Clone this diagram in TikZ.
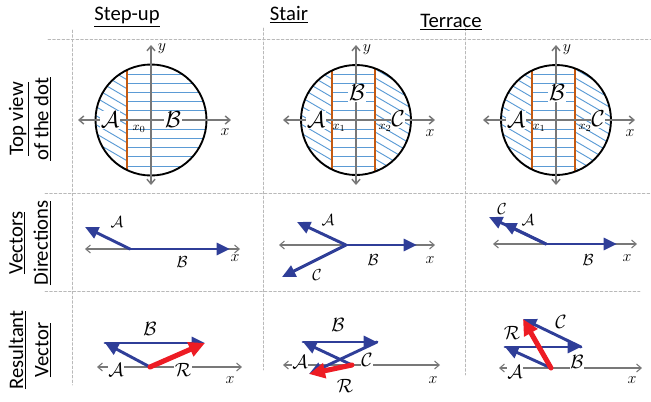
\documentclass[tikz,border=0pt]{standalone}
\usepackage{fontspec}
\setmainfont{Carlito}
\usetikzlibrary{arrows.meta}

\definecolor{vecblue}{RGB}{47,62,152}
\definecolor{resred}{RGB}{237,28,36}
\definecolor{cutred}{RGB}{197,90,17}
\definecolor{hatchblue}{RGB}{91,155,213}
\definecolor{axisgrey}{RGB}{120,120,120}
\definecolor{gridgrey}{RGB}{185,185,185}

\tikzset{
  grid/.style={gridgrey,line width=0.6pt,dash pattern=on 2pt off 1.5pt},
  axis/.style={axisgrey,line width=0.8pt,
    {Straight Barb[length=3.5pt,width=6pt]}-{Straight Barb[length=3.5pt,width=6pt]}},
  bigaxis/.style={axis,line width=1.1pt},
  vec/.style={vecblue,line width=2.2pt,-{Triangle[length=10pt,width=9pt]}},
  res/.style={resred,line width=3.8pt,-{Triangle[length=12pt,width=11pt]}},
  hatch/.style={hatchblue,line width=0.7pt},
  cut/.style={cutred,line width=2pt},
  dot/.style={draw=black,line width=1.4pt},
  head/.style={font=\fontsize{15.5}{18}\selectfont},
  side/.style={font=\fontsize{15.5}{19}\selectfont,rotate=90,align=center},
  calbig/.style={font=\fontsize{17}{17}\selectfont,inner sep=0.5pt},
  calmid/.style={font=\fontsize{12}{12}\selectfont,inner sep=0.5pt},
  calres/.style={font=\fontsize{14}{14}\selectfont,inner sep=0.5pt},
  axlbl/.style={font=\fontsize{12}{12}\selectfont,inner sep=0pt},
  sublbl/.style={font=\fontsize{9.5}{9.5}\selectfont,inner sep=0pt},
  wbg/.style={fill=white},
}

\begin{document}
\begin{tikzpicture}[x=0.75pt,y=-0.75pt,line cap=round]
  \useasboundingbox (0,0) rectangle (651,401);

  % dashed frame
  \coordinate (h1a) at (48,39);  \coordinate (h1b) at (651,39);
  \coordinate (h2a) at (45,193); \coordinate (h2b) at (651,193);
  \coordinate (h3a) at (45,291); \coordinate (h3b) at (640,291);
  \coordinate (v1a) at (72,30);  \coordinate (v1b) at (72,385);
  \coordinate (v2a) at (263,28); \coordinate (v2b) at (263,370);
  \coordinate (v3a) at (465,28); \coordinate (v3b) at (465,375);
  \foreach \p in {h1,h2,h3,v1,v2,v3}
    \draw[grid] (\p a) -- (\p b);

  % column and row titles
  \node[head] (tstep) at (127,17) {\underline{Step-up}};
  \node[head] (tstair) at (289,15) {\underline{Stair}};
  \node[head] (tterr) at (451,22) {\underline{Terrace}};
  \node[side] (rtop) at (30,119) {\underline{Top view}\\\underline{of the dot}};
  \node[side] (rdir) at (30,243) {\underline{Vectors}\\\underline{Directions}};
  \node[side] (rres) at (30,350) {\underline{Resultant}\\\underline{Vector}};

  % top view, step-up
  \coordinate (ctra) at (151,120);
  \begin{scope}
    \clip (ctra) circle (55.5);
    \begin{scope}
      \clip (90,60) rectangle (127,180);
      \foreach \k in {-9,...,7}
        \draw[hatch] (88,{120+9*\k}) -- ++(60,35);
    \end{scope}
    \foreach \k in {-6,...,6}
      \draw[hatch] (127,{120+9.2*\k}) -- (210,{120+9.2*\k});
    \draw[cut] (127,60) -- (127,180);
  \end{scope}
  \draw[dot] (ctra) circle (55.5);
  \coordinate (xla) at (78,120);  \coordinate (xra) at (231,120);
  \coordinate (ybota) at (151,185); \coordinate (ytopa) at (151,45);
  \draw[bigaxis] (xla) -- (xra);
  \draw[bigaxis] (ybota) -- (ytopa);
  \node[calbig,wbg] (ta) at (110,120) {$\mathcal{A}$};
  \node[calbig,wbg] (tb) at (173,120) {$\mathcal{B}$};
  \node[sublbl] (x0) at (139,129) {$x_0$};
  \node[axlbl] (ya) at (162,49) {$y$};
  \node[axlbl] (xa) at (225,132) {$x$};

  % top view, stair and terrace
  \foreach \cx/\n in {356/b,556/c}{
    \coordinate (ctr\n) at (\cx,120);
    \begin{scope}
      \clip (ctr\n) circle (55);
      \begin{scope}
        \clip ({\cx-60},60) rectangle ({\cx-24},180);
        \foreach \k in {-9,...,7}
          \draw[hatch] ({\cx-62},{120+9*\k}) -- ++(60,35);
      \end{scope}
      \begin{scope}
        \clip ({\cx+19},60) rectangle ({\cx+60},180);
        \foreach \k in {-10,...,7}
          \draw[hatch] ({\cx+14},{120+9*\k}) -- ++(60,35);
      \end{scope}
      \foreach \k in {-6,...,6}
        \draw[hatch] ({\cx-24},{120+9.2*\k}) -- ({\cx+19},{120+9.2*\k});
      \draw[cut] ({\cx-24},60) -- ({\cx-24},180);
      \draw[cut] ({\cx+19},60) -- ({\cx+19},180);
    \end{scope}
    \draw[dot] (ctr\n) circle (55);
    \coordinate (xl\n) at ({\cx-73},120); \coordinate (xr\n) at ({\cx+79},120);
    \coordinate (ybot\n) at (\cx,185);    \coordinate (ytop\n) at (\cx,45);
    \draw[bigaxis] (xl\n) -- (xr\n);
    \draw[bigaxis] (ybot\n) -- (ytop\n);
    \node[calbig,wbg] (t\n a) at ({\cx-40},120) {$\mathcal{A}$};
    \node[calbig,wbg] (t\n b) at ({\cx+1},93) {$\mathcal{B}$};
    \node[calbig,wbg] (t\n c) at ({\cx+42},119) {$\mathcal{C}$};
    \node[sublbl] (x1\n) at ({\cx-17},128) {$x_1$};
    \node[sublbl] (x2\n) at ({\cx+29},128) {$x_2$};
    \node[axlbl] (y\n) at ({\cx+11},50) {$y$};
    \node[axlbl] (x\n) at ({\cx+74},133) {$x$};
  }

  % vector directions
  \coordinate (dla) at (85,249);  \coordinate (dra) at (240,249);
  \coordinate (doa) at (130,249);
  \coordinate (daa) at (85,227);  \coordinate (dba) at (230,249);
  \draw[axis] (dla) -- (dra);
  \draw[vec] (doa) -- (daa);
  \draw[vec] (doa) -- (dba);
  \node[calmid] (da) at (117,222) {$\mathcal{A}$};
  \node[calmid] (db) at (182,262) {$\mathcal{B}$};
  \node[axlbl] (dxa) at (235,258) {$x$};

  \coordinate (dlb) at (279,245); \coordinate (drb) at (435,245);
  \coordinate (dob) at (346,245);
  \coordinate (dab) at (297,222); \coordinate (dbb) at (417,245);
  \coordinate (dcb) at (282,277);
  \draw[axis] (dlb) -- (drb);
  \draw[vec] (dob) -- (dab);
  \draw[vec] (dob) -- (dbb);
  \draw[vec] (dob) -- (dcb);
  \node[calmid] (dsa) at (328,220) {$\mathcal{A}$};
  \node[calmid] (dsb) at (373,260) {$\mathcal{B}$};
  \node[calmid] (dsc) at (317,275) {$\mathcal{C}$};
  \node[axlbl] (dxb) at (430,260) {$x$};

  \coordinate (dlc) at (493,244); \coordinate (drc) at (637,244);
  \coordinate (doc) at (546,244);
  \coordinate (dac) at (503,223); \coordinate (dbc) at (617,244);
  \coordinate (dcc) at (489,217);
  \draw[axis] (dlc) -- (drc);
  \draw[vec] (doc) -- (dac);
  \draw[vec] (doc) -- (dcc);
  \draw[vec] (doc) -- (dbc);
  \node[calmid] (dtc) at (502,209) {$\mathcal{C}$};
  \node[calmid] (dta) at (528,220) {$\mathcal{A}$};
  \node[calmid] (dtb) at (588,260) {$\mathcal{B}$};
  \node[axlbl] (dxc) at (627,258) {$x$};

  % resultant vectors
  \coordinate (rla) at (97,367);  \coordinate (rra) at (242,367);
  \coordinate (roa) at (150,367);
  \coordinate (raa) at (105,343); \coordinate (rba) at (205,343);
  \draw[axis] (rla) -- (rra);
  \draw[vec] (roa) -- (raa);
  \draw[vec] (raa) -- (rba);
  \draw[res] (roa) -- (rba);
  \node[calres] (ra) at (150,329) {$\mathcal{B}$};
  \node[calres,wbg] (rsa) at (116,370) {$\mathcal{A}$};
  \node[calres,wbg] (rra2) at (183,370) {$\mathcal{R}$};
  \node[axlbl] (rxa) at (230,380) {$x$};

  \coordinate (rlb) at (283,365); \coordinate (rrb) at (440,365);
  \coordinate (rob) at (352,365);
  \coordinate (rab) at (303,342); \coordinate (rbb) at (377,342);
  \coordinate (rcb) at (309,374);
  \draw[axis] (rlb) -- (rrb);
  \draw[vec] (rob) -- (rab);
  \draw[vec] (rab) -- (rbb);
  \draw[vec] (rbb) -- (rcb);
  \draw[res] (rob) -- (rcb);
  \node[calres] (rsb) at (338,325) {$\mathcal{B}$};
  \node[calres,wbg] (rsba) at (300,362) {$\mathcal{A}$};
  \node[calres,wbg] (rsbc) at (367,360) {$\mathcal{C}$};
  \node[calres] (rsbr) at (345,386) {$\mathcal{R}$};
  \node[axlbl] (rxb) at (433,380) {$x$};

  \coordinate (rlc) at (499,368); \coordinate (rrc) at (642,368);
  \coordinate (roc) at (551,368);
  \coordinate (rac) at (505,347); \coordinate (rbc) at (581,347);
  \coordinate (rcc) at (523,319);
  \draw[axis] (rlc) -- (rrc);
  \draw[vec] (roc) -- (rac);
  \draw[vec] (rac) -- (rbc);
  \draw[vec] (rbc) -- (rcc);
  \draw[res] (roc) -- (rcc);
  \node[calres] (rscc) at (561,322) {$\mathcal{C}$};
  \node[calres] (rscr) at (512,333) {$\mathcal{R}$};
  \node[calres,wbg] (rsca) at (515,372) {$\mathcal{A}$};
  \node[calres,wbg] (rscb) at (577,362) {$\mathcal{B}$};
  \node[axlbl] (rxc) at (632,380) {$x$};
\end{tikzpicture}
\end{document}
